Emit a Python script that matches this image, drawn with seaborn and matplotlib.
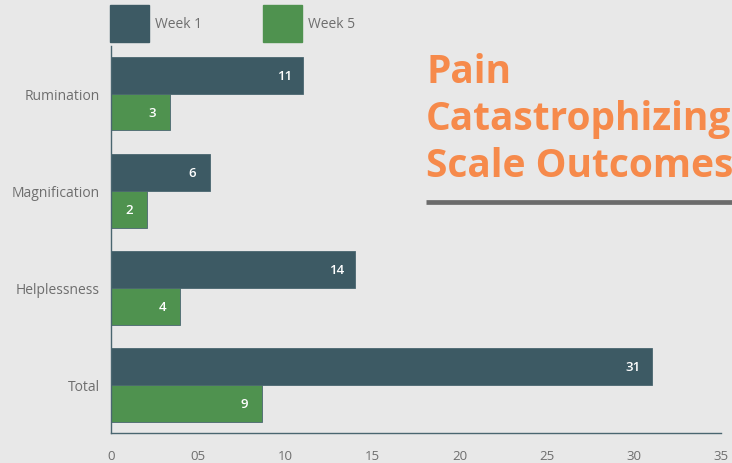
import pandas as pd
import matplotlib.pyplot as plt
import seaborn as sns
from matplotlib.patches import Patch
from matplotlib.lines import Line2D

# values
categories = ["Rumination", "Magnification", "Helplessness", "Total"]
week1_scores = [11.0, 5.7, 14.0, 31.0]
week5_scores = [3.4, 2.1, 4.0, 8.7]
week1_labels = ["11", "6", "14", "31"]
week5_labels = ["3", "2", "4", "9"]
weeks = ["Week 1", "Week 5"]
x_ticks = [0, 5, 10, 15, 20, 25, 30, 35]
x_tick_labels = ["0", "05", "10", "15", "20", "25", "30", "35"]
title_lines = ["Pain", "Catastrophizing", "Scale Outcomes"]

BG = "#e8e8e8"
DARK = "#3d5a64"
GREEN = "#4f924f"
AXIS = "#4a6670"
GRAY_TXT = "#6e6e6e"
ORANGE = "#f68a4b"

sns.set_style("white")
plt.rcParams["font.family"] = ["Open Sans", "DejaVu Sans"]

df = pd.DataFrame({
    "category": categories * 2,
    "score": week1_scores + week5_scores,
    "week": [weeks[0]] * len(categories) + [weeks[1]] * len(categories),
})

fig = plt.figure(figsize=(7.32, 4.64), dpi=100, facecolor=BG)
ax = fig.add_axes([110.7 / 732, 1 - 434.3 / 464, (721.3 - 110.7) / 732, (434.3 - 47) / 464])
ax.set_facecolor(BG)

sns.barplot(data=df, y="category", x="score", hue="week", orient="h",
            palette=[DARK, GREEN], saturation=1, width=0.76,
            edgecolor=AXIS, linewidth=0.6, legend=False, ax=ax)

# value labels inside bar ends
for container, labels in zip(ax.containers, [week1_labels, week5_labels]):
    for bar, lbl in zip(container, labels):
        ax.annotate(lbl, (bar.get_width(), bar.get_y() + bar.get_height() / 2),
                    xytext=(-18, 0), textcoords="offset pixels",
                    ha="center", va="center", color="white",
                    fontsize=9.5, fontweight="semibold")

ax.set_xlim(0, 35)
ax.set_ylim(3.5, -0.49)
ax.set_xticks(x_ticks)
ax.set_xticklabels(x_tick_labels)
ax.set_xlabel("")
ax.set_ylabel("")

for s in ["top", "right"]:
    ax.spines[s].set_visible(False)
for s in ["left", "bottom"]:
    ax.spines[s].set_color(AXIS)
    ax.spines[s].set_linewidth(1)

ax.tick_params(axis="x", direction="in", length=6.5, width=1, color=AXIS,
               pad=11, labelsize=9.5, labelcolor=GRAY_TXT)
ax.tick_params(axis="y", length=0, pad=8, labelsize=10, labelcolor=GRAY_TXT)

# legend with large square swatches
handles = [Patch(facecolor=DARK, edgecolor=DARK), Patch(facecolor=GREEN, edgecolor=GREEN)]
fig.legend(handles, weeks, loc="upper left", bbox_to_anchor=(110 / 732, 1 - 6 / 464),
           ncol=2, frameon=False, fontsize=10, labelcolor=GRAY_TXT,
           handlelength=2.81, handleheight=3.715, handletextpad=0.43,
           columnspacing=4.4, borderpad=0, borderaxespad=0)

# title block on the right
for i, line in enumerate(title_lines):
    fig.text(426 / 732, 1 - (83 + 47 * i) / 464, line, color=ORANGE,
             fontsize=28, fontweight="bold", ha="left", va="baseline")

fig.add_artist(Line2D([426 / 732, 1.0], [1 - 203 / 464] * 2, color="#6b6b6b",
                      linewidth=3.4, solid_capstyle="butt", transform=fig.transFigure))

fig.savefig("out.png", dpi=100, facecolor=BG)
